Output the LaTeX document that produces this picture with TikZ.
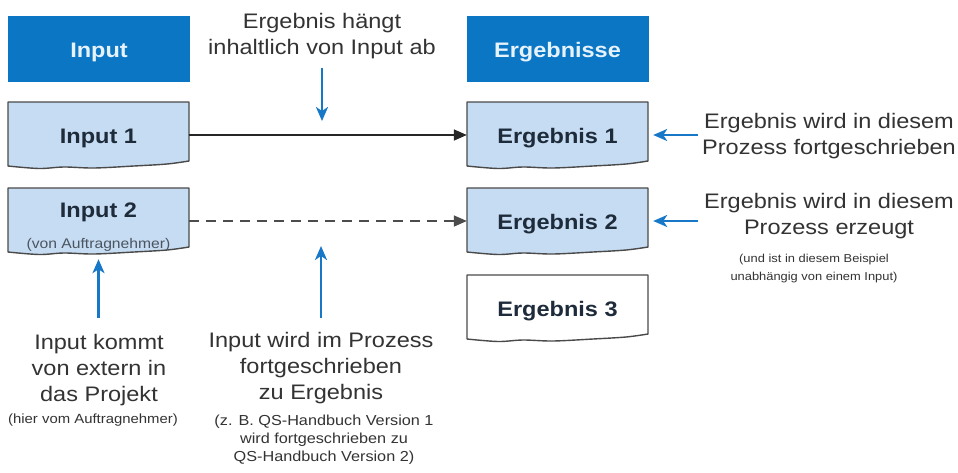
\documentclass[tikz,border=0pt]{standalone}
\usepackage{fontspec}
\setmainfont{Liberation Sans}[FakeStretch=1.12]
\usetikzlibrary{arrows.meta}
\definecolor{hdrblue}{HTML}{0B77C4}
\definecolor{boxfill}{HTML}{C6DCF2}
\definecolor{boxedge}{HTML}{4A4A4A}
\definecolor{arrblue}{HTML}{1878C8}
\definecolor{txtgray}{HTML}{333333}
\definecolor{boxtxt}{HTML}{1E2B3A}
\definecolor{hdrtxt}{HTML}{E6F2FC}
\newcommand{\docbox}[5]{%
  \pgfmathsetmacro{\bxa}{#2}\pgfmathsetmacro{\bxb}{#2+181}\pgfmathsetmacro{\bya}{#3}%
  \filldraw[fill=#4, draw=boxedge, line width=1.4pt, line join=round]
    (\bxa,\bya) -- (\bxb,\bya) -- ({\bxb},{\bya+59})
    -- plot[smooth,tension=0.55] coordinates {({\bxb},{\bya+59}) ({\bxb-22},{\bya+62}) ({\bxb-55},{\bya+64}) ({\bxb-95},{\bya+66}) ({\bxb-125},{\bya+65}) ({\bxb-150},{\bya+66.5}) ({\bxa},{\bya+64})}
    -- cycle;
  \node[boxshape] (#1) at ({#2+90.5},{#3+33}) {#5};
}
\tikzset{
  boxshape/.style={rectangle, minimum width=181pt, minimum height=66pt, inner sep=0pt,
    text=boxtxt, font=\bfseries\fontsize{21}{25}\selectfont, text height=16pt, text depth=0pt},
  hdr/.style={rectangle, fill=hdrblue, minimum width=182pt, minimum height=66pt, inner sep=0pt,
    text=hdrtxt, font=\bfseries\fontsize{21}{25}\selectfont, text height=17pt, text depth=0pt},
  boxlabel/.style={inner sep=0pt, text=boxtxt, font=\bfseries\fontsize{21}{25}\selectfont},
  boxsmall/.style={inner sep=0pt, text=boxtxt!80, font=\fontsize{14}{16}\selectfont},
  note/.style={inner sep=0pt, align=center, text=txtgray, font=\fontsize{21}{26}\selectfont},
  notesmall/.style={inner sep=0pt, align=center, text=txtgray},
  flowarrow/.style={draw=black!85, line width=1.6pt, -{Triangle[length=13pt,width=11pt]}},
  dashedarrow/.style={draw=black!70, line width=1.6pt, dash pattern=on 10pt off 7pt, -{Triangle[length=13pt,width=11pt]}},
  bluearrow/.style={draw=arrblue, line width=2.4pt, -{Stealth[length=14pt,width=12pt,inset=4pt]}}
}
\begin{document}
\begin{tikzpicture}[x=1pt, y=-1pt]
\path[use as bounding box, fill=white] (0,0) rectangle (958,472);
% headers
\node[hdr] (hin) at (99,49) {Input};
\node[hdr] (her) at (557.5,49) {Ergebnisse};
% boxes
\docbox{in1}{8}{102}{boxfill}{Input 1}
\docbox{in2}{8}{188}{boxfill}{}
\node[boxlabel, anchor=base] (in2t) at (98.5,217) {Input 2};
\node[boxsmall, anchor=base] (in2s) at (98.5,248) {(von Auftragnehmer)};
\docbox{er1}{467}{102}{boxfill}{Ergebnis 1}
\docbox{er2}{467}{188}{boxfill}{Ergebnis 2}
\docbox{er3}{467}{275}{white}{Ergebnis 3}
% flow arrows
\draw[flowarrow] (in1.east) -- (er1.west);
\draw[dashedarrow] (in2.east) -- (er2.west);
% annotations
\node[note, anchor=north] (nt) at (322,13) {Ergebnis hängt\\inhaltlich von Input ab};
\node[note, anchor=north] (nr1) at (829,113) {Ergebnis wird in diesem\\Prozess fortgeschrieben};
\node[note, anchor=north] (nr2) at (829,193) {Ergebnis wird in diesem\\Prozess erzeugt};
\node[notesmall, anchor=north, font=\fontsize{11.5}{18}\selectfont] (nr2s) at (814,254) {(und ist in diesem Beispiel\\unabhängig von einem Input)};
\node[note, anchor=north] (nl) at (99,334) {Input kommt\\von extern in\\das Projekt};
\node[notesmall, anchor=north, font=\fontsize{13.3}{18}\selectfont] (nls) at (93,414) {(hier vom Auftragnehmer)};
\node[note, anchor=north] (nm) at (321,332) {Input wird im Prozess\\fortgeschrieben\\zu Ergebnis};
\node[notesmall, anchor=north, font=\fontsize{14.5}{18}\selectfont] (nms) at (324,415) {(z. B. QS-Handbuch Version 1\\wird fortgeschrieben zu\\QS-Handbuch Version 2)};
% blue arrows
\coordinate (t1) at (322,68);
\coordinate (t2) at (322,121);
\draw[bluearrow] (t1) -- (t2);
\coordinate (r1) at (698,135);
\draw[bluearrow] (r1) -- ([xshift=5pt]er1.east);
\coordinate (r2) at (698,221);
\draw[bluearrow] (r2) -- ([xshift=5pt]er2.east);
\coordinate (b1) at (98.5,318);
\draw[bluearrow] (b1) -- ([yshift=-5pt]in2.south);
\coordinate (b2) at (321,318);
\coordinate (b3) at (321,246);
\draw[bluearrow] (b2) -- (b3);
\end{tikzpicture}
\end{document}
